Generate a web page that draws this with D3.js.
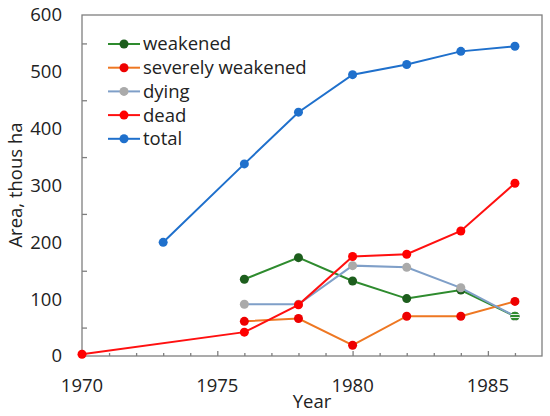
<!DOCTYPE html>
<html>
<head>
<meta charset="utf-8">
<script src="https://cdn.jsdelivr.net/npm/d3@7"></script>
<style>
  body { margin: 0; background: #fff; }
  svg text { font-family: "Open Sans", "Noto Sans", sans-serif; fill: #222; }
</style>
</head>
<body>
<svg id="chart" width="550" height="416"></svg>
<script>
const seriesNames = ['weakened', 'severely weakened', 'dying', 'dead', 'total']
const lineColors = ['#2e8b2e', '#ee7722', '#7f9fc8', '#ff1010', '#1f70cc']
const markerColors = ['#1d5e1d', '#ee0000', '#aaaaaa', '#ff0000', '#1f70cc']

const weakenedYears = [1976, 1978, 1980, 1982, 1984, 1986]
const weakened = [135, 173, 132, 101, 116, 70]
const severelyYears = [1976, 1978, 1980, 1982, 1984, 1986]
const severely = [61, 66, 19, 70, 70, 96]
const dyingYears = [1976, 1978, 1980, 1982, 1984, 1986]
const dying = [91, 91, 159, 156, 120, 70]
const deadYears = [1970, 1976, 1978, 1980, 1982, 1984, 1986]
const dead = [3, 42, 90, 175, 179, 220, 304]
const totalYears = [1973, 1976, 1978, 1980, 1982, 1984, 1986]
const total = [200, 338, 429, 495, 513, 536, 545]

const yTicks = [0, 100, 200, 300, 400, 500, 600]
const xTicks = [1970, 1975, 1980, 1985]

const series = [
	{ years: weakenedYears, values: weakened },
	{ years: severelyYears, values: severely },
	{ years: dyingYears, values: dying },
	{ years: deadYears, values: dead },
	{ years: totalYears, values: total }
].map((s, i) => ({
	name: seriesNames[i],
	line: lineColors[i],
	marker: markerColors[i],
	points: s.years.map((yr, j) => ({ year: yr, value: s.values[j] }))
}))

const svg = d3.select('#chart')
const plot = { left: 82, right: 542, top: 15, bottom: 356 }
const axisColor = '#7f7f7f'
const fontSize = 18.5

const x = d3.scaleLinear().domain([1970, 1987]).range([plot.left, plot.right])
const y = d3.scaleLinear().domain([0, 600]).range([plot.bottom, plot.top])

// striped fill for the overlapping 1986 marker
const defs = svg.append('defs')
const pat = defs.append('pattern')
	.attr('id', 'stripes')
	.attr('patternUnits', 'userSpaceOnUse')
	.attr('width', 4).attr('height', 3)
pat.append('rect').attr('width', 4).attr('height', 3).attr('fill', '#e8f0e8')
pat.append('rect').attr('width', 4).attr('height', 2).attr('fill', '#2e8b2e')

// frame
svg.append('rect')
	.attr('x', plot.left).attr('y', plot.top)
	.attr('width', plot.right - plot.left).attr('height', plot.bottom - plot.top)
	.attr('fill', 'none').attr('stroke', axisColor).attr('stroke-width', 1.3)

// x ticks, inside, every year
const xAxis = d3.axisBottom(x)
	.tickValues(d3.range(1971, 1987))
	.tickSize(-3)
	.tickFormat('')
svg.append('g')
	.attr('transform', `translate(0,${plot.bottom})`)
	.call(xAxis)
	.call(g => g.select('.domain').remove())
	.call(g => g.selectAll('line').attr('stroke', axisColor).attr('stroke-width', 1.3)
		.attr('y2', d => d % 5 === 0 ? -5 : -3))

svg.append('g')
	.selectAll('text')
	.data(xTicks)
	.join('text')
	.attr('x', d => x(d))
	.attr('y', plot.bottom + 36)
	.attr('text-anchor', 'middle')
	.attr('font-size', fontSize)
	.text(d => d)

// y ticks, minor only, inside
const yAxis = d3.axisLeft(y)
	.tickValues(d3.range(50, 600, 100))
	.tickSize(-5)
	.tickFormat('')
svg.append('g')
	.attr('transform', `translate(${plot.left},0)`)
	.call(yAxis)
	.call(g => g.select('.domain').remove())
	.call(g => g.selectAll('line').attr('stroke', axisColor).attr('stroke-width', 1.3))

svg.append('g')
	.selectAll('text')
	.data(yTicks)
	.join('text')
	.attr('x', plot.left - 20)
	.attr('y', d => y(d))
	.attr('dy', '0.35em')
	.attr('text-anchor', 'end')
	.attr('font-size', fontSize)
	.text(d => d)

svg.append('text')
	.attr('x', 312).attr('y', 408)
	.attr('text-anchor', 'middle')
	.attr('font-size', fontSize)
	.text('Year')

svg.append('text')
	.attr('transform', 'translate(22,185) rotate(-90)')
	.attr('text-anchor', 'middle')
	.attr('font-size', fontSize)
	.text('Area, thous ha')

// series
const line = d3.line().x(d => x(d.year)).y(d => y(d.value))
const groups = svg.append('g')
	.selectAll('g')
	.data(series)
	.join('g')

groups.append('path')
	.attr('d', d => line(d.points))
	.attr('fill', 'none')
	.attr('stroke', d => d.line)
	.attr('stroke-width', 2)

groups.selectAll('circle')
	.data(d => d.points.map(p => ({ ...p, color: d.marker })))
	.join('circle')
	.attr('cx', d => x(d.year))
	.attr('cy', d => y(d.value))
	.attr('r', 4.5)
	.attr('fill', d => d.color)

// overlapping end point of weakened / dying
const lastW = series[0].points[series[0].points.length - 1]
svg.append('circle')
	.attr('cx', x(lastW.year))
	.attr('cy', y(lastW.value))
	.attr('r', 4.5)
	.attr('fill', 'url(#stripes)')

// legend
const legend = svg.append('g')
	.selectAll('g')
	.data(series)
	.join('g')
	.attr('transform', (d, i) => `translate(108,${44 + i * 23.7})`)

legend.append('line')
	.attr('x1', 0).attr('x2', 32)
	.attr('stroke', d => d.line).attr('stroke-width', 2)
legend.append('circle')
	.attr('cx', 16).attr('r', 4.5)
	.attr('fill', d => d.marker)
legend.append('text')
	.attr('x', 35)
	.attr('dy', '0.35em')
	.attr('font-size', fontSize)
	.text(d => d.name)
</script>
</body>
</html>
